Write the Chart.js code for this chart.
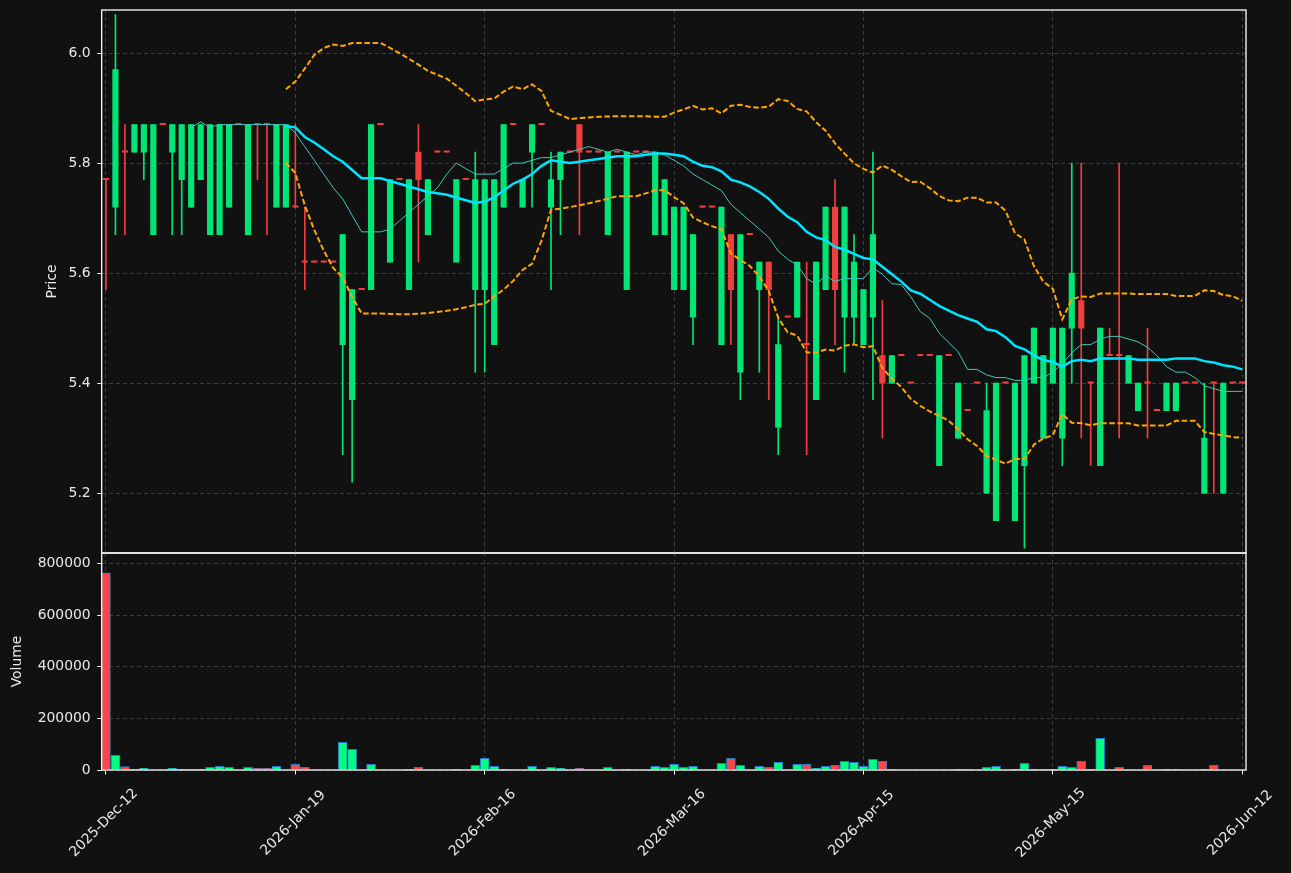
<!DOCTYPE html>
<html><head><meta charset="utf-8">
<script src="https://cdn.jsdelivr.net/npm/chart.js@4.4.1/dist/chart.umd.min.js"></script>
<style>
html,body{margin:0;padding:0;background:#111111;}
#wrap{position:relative;width:1291px;height:873px;background:#111111;overflow:hidden;}
#pc{position:absolute;left:0;top:0;}
#vc{position:absolute;left:0;top:550px;}
</style></head><body>
<div id="wrap"><canvas id="vc" width="1291" height="323"></canvas><canvas id="pc" width="1291" height="556"></canvas></div>
<script>
// ---- tick labels ----
const tickIndex = [0, 20, 40, 60, 80, 100, 120];
const tickLabels = ['2025-Dec-12','2026-Jan-19','2026-Feb-16','2026-Mar-16','2026-Apr-15','2026-May-15','2026-Jun-12'];
const priceTicks = [5.2, 5.4, 5.6, 5.8, 6.0];
const volumeTicks = [0, 200000, 400000, 600000, 800000];

// ---- OHLC ----
const opens = [5.77,5.72,5.82,5.82,5.82,5.67,5.87,5.82,5.77,5.72,5.77,5.67,5.67,5.72,5.87,5.67,5.87,5.87,5.72,5.72,
5.72,5.62,5.62,5.62,5.62,5.47,5.37,5.57,5.57,5.87,5.62,5.77,5.57,5.82,5.67,5.82,5.82,5.62,5.77,5.57,
5.57,5.47,5.72,5.87,5.72,5.82,5.87,5.72,5.77,5.82,5.87,5.82,5.82,5.67,5.82,5.57,5.82,5.82,5.67,5.67,
5.57,5.57,5.52,5.72,5.72,5.47,5.67,5.42,5.67,5.57,5.62,5.32,5.52,5.52,5.47,5.37,5.57,5.72,5.52,5.52,
5.47,5.52,5.45,5.40,5.45,5.40,5.45,5.45,5.25,5.45,5.30,5.35,5.40,5.20,5.15,5.40,5.15,5.25,5.40,5.30,
5.40,5.30,5.50,5.55,5.40,5.25,5.45,5.45,5.40,5.35,5.40,5.35,5.35,5.35,5.40,5.40,5.20,5.40,5.20,5.40,5.40];
const highs = [5.77,6.07,5.87,5.87,5.87,5.87,5.87,5.87,5.87,5.87,5.87,5.87,5.87,5.87,5.87,5.87,5.87,5.87,5.87,5.87,
5.87,5.72,5.62,5.62,5.62,5.67,5.57,5.57,5.87,5.87,5.77,5.77,5.77,5.87,5.77,5.82,5.82,5.77,5.77,5.82,
5.77,5.77,5.87,5.87,5.77,5.87,5.87,5.82,5.82,5.82,5.87,5.82,5.82,5.82,5.82,5.82,5.82,5.82,5.82,5.77,
5.72,5.72,5.67,5.72,5.72,5.72,5.67,5.67,5.67,5.62,5.62,5.52,5.52,5.62,5.62,5.62,5.72,5.77,5.72,5.67,
5.57,5.82,5.55,5.45,5.45,5.40,5.45,5.45,5.45,5.45,5.40,5.35,5.40,5.40,5.40,5.40,5.40,5.45,5.50,5.45,
5.50,5.50,5.80,5.80,5.40,5.50,5.50,5.80,5.45,5.40,5.50,5.35,5.40,5.40,5.40,5.40,5.40,5.40,5.40,5.40,5.40];
const lows = [5.57,5.67,5.67,5.82,5.77,5.67,5.87,5.67,5.67,5.72,5.77,5.67,5.67,5.72,5.87,5.67,5.77,5.67,5.72,5.72,
5.72,5.57,5.62,5.62,5.62,5.27,5.22,5.57,5.57,5.87,5.62,5.77,5.57,5.62,5.67,5.82,5.82,5.62,5.77,5.42,
5.42,5.47,5.72,5.87,5.72,5.72,5.87,5.57,5.67,5.82,5.67,5.82,5.82,5.67,5.82,5.57,5.82,5.82,5.67,5.67,
5.57,5.57,5.47,5.72,5.72,5.47,5.47,5.37,5.67,5.42,5.37,5.27,5.52,5.52,5.27,5.37,5.57,5.47,5.42,5.47,
5.47,5.37,5.30,5.40,5.45,5.40,5.45,5.45,5.25,5.45,5.30,5.35,5.40,5.20,5.15,5.40,5.15,5.10,5.40,5.30,
5.40,5.25,5.40,5.30,5.25,5.25,5.45,5.30,5.40,5.35,5.30,5.35,5.35,5.35,5.40,5.40,5.20,5.20,5.20,5.40,5.40];
const closes = [5.77,5.97,5.82,5.87,5.87,5.87,5.87,5.87,5.87,5.87,5.87,5.87,5.87,5.87,5.87,5.87,5.87,5.87,5.87,5.87,
5.72,5.62,5.62,5.62,5.62,5.67,5.57,5.57,5.87,5.87,5.77,5.77,5.77,5.77,5.77,5.82,5.82,5.77,5.77,5.77,
5.77,5.77,5.87,5.87,5.77,5.87,5.87,5.77,5.82,5.82,5.82,5.82,5.82,5.82,5.82,5.82,5.82,5.82,5.82,5.77,
5.72,5.72,5.67,5.72,5.72,5.72,5.57,5.67,5.67,5.62,5.57,5.47,5.52,5.62,5.47,5.62,5.72,5.57,5.72,5.62,
5.57,5.67,5.40,5.45,5.45,5.40,5.45,5.45,5.45,5.45,5.40,5.35,5.40,5.35,5.40,5.40,5.40,5.45,5.50,5.45,
5.50,5.50,5.60,5.50,5.40,5.50,5.45,5.45,5.45,5.40,5.40,5.35,5.40,5.40,5.40,5.40,5.30,5.40,5.40,5.40,5.40];
const volumes = [765000,57000,13000,2600,6500,0,0,6500,2600,2600,2600,10000,14000,10000,0,10000,6500,6500,14000,0,
22000,10000,0,0,0,107600,80400,0,22000,0,0,0,2600,10000,0,0,0,2600,0,18000,
45400,14000,2600,0,0,14000,0,10000,6500,0,6500,0,0,10000,0,2600,0,0,14000,10000,
22000,10000,14000,0,0,26000,45400,18000,0,14000,10000,30000,0,22000,22000,6500,14000,18000,33700,30000,
14000,41500,33700,2600,0,0,0,0,0,0,2600,2600,0,10000,14000,0,2600,26000,2600,2600,
2600,14000,10000,33700,2600,123000,0,10000,0,0,18000,0,2600,2600,0,0,2600,18000,0,0,0];

// ---- indicator lines ----
const ma10 = [null,null,null,null,null,null,null,null,null,5.865,5.875,5.865,5.87,5.87,5.87,5.87,5.87,5.87,5.87,5.87,
5.855,5.83,5.805,5.78,5.755,5.735,5.705,5.675,5.675,5.675,5.68,5.695,5.71,5.725,5.74,5.755,5.78,5.80,5.79,5.78,
5.78,5.78,5.79,5.80,5.80,5.805,5.81,5.81,5.815,5.82,5.825,5.83,5.825,5.82,5.825,5.82,5.815,5.82,5.82,5.815,
5.805,5.795,5.78,5.77,5.76,5.75,5.725,5.71,5.695,5.68,5.665,5.64,5.625,5.615,5.59,5.58,5.595,5.585,5.59,5.59,
5.59,5.61,5.598,5.581,5.579,5.557,5.53,5.518,5.491,5.474,5.457,5.425,5.425,5.415,5.41,5.41,5.405,5.405,5.41,5.41,
5.42,5.435,5.455,5.47,5.47,5.48,5.485,5.485,5.48,5.475,5.465,5.45,5.43,5.42,5.42,5.41,5.395,5.39,5.385,5.385,5.385];
const ma20 = [null,null,null,null,null,null,null,null,null,null,null,null,null,null,null,null,null,null,null,5.8675,
5.865,5.8475,5.8375,5.825,5.8125,5.8025,5.7875,5.7725,5.7725,5.7725,5.7675,5.7625,5.7575,5.7525,5.7475,5.745,5.7425,5.7375,5.7325,5.7275,
5.73,5.7375,5.75,5.7625,5.77,5.78,5.795,5.805,5.8025,5.80,5.8025,5.805,5.8075,5.81,5.8125,5.8125,5.8125,5.815,5.8175,5.8175,
5.815,5.8125,5.8025,5.795,5.7925,5.785,5.77,5.765,5.7575,5.7475,5.735,5.7175,5.7025,5.6925,5.675,5.665,5.66,5.6475,5.6425,5.635,
5.6275,5.625,5.6115,5.598,5.5845,5.5685,5.5625,5.5515,5.5405,5.532,5.5235,5.5175,5.5115,5.498,5.4945,5.4835,5.4675,5.4615,5.4505,5.442,
5.4385,5.43,5.44,5.4425,5.44,5.445,5.445,5.445,5.445,5.4425,5.4425,5.4425,5.4425,5.445,5.445,5.445,5.44,5.4375,5.4325,5.43,5.425];
const bbUpper = [null,null,null,null,null,null,null,null,null,null,null,null,null,null,null,null,null,null,null,5.9344,
5.9481,5.9719,5.9965,6.0091,6.0157,6.0129,6.0183,6.0184,6.0184,6.0184,6.0093,5.9997,5.9896,5.9789,5.9677,5.9606,5.9534,5.9407,5.9271,5.9126,
5.916,5.9172,5.93,5.9393,5.9343,5.9431,5.931,5.895,5.8878,5.88,5.8817,5.8831,5.8841,5.8848,5.8851,5.8851,5.8851,5.885,5.8844,5.8844,
5.8918,5.8978,5.9039,5.8975,5.8996,5.8904,5.9042,5.9061,5.902,5.9007,5.9026,5.9162,5.9129,5.8986,5.8939,5.8745,5.859,5.8358,5.8171,5.7996,
5.7896,5.7828,5.7956,5.7878,5.7761,5.7655,5.7662,5.7545,5.7404,5.7322,5.7308,5.7372,5.7371,5.7283,5.7285,5.7135,5.6726,5.6612,5.6128,5.5845,
5.5714,5.516,5.5522,5.5577,5.5566,5.5629,5.5629,5.5629,5.5629,5.562,5.562,5.562,5.562,5.5586,5.5586,5.5586,5.5688,5.5674,5.5601,5.5581,5.5495];
const bbLower = [null,null,null,null,null,null,null,null,null,null,null,null,null,null,null,null,null,null,null,5.8006,
5.7819,5.7231,5.6785,5.6409,5.6093,5.5921,5.5567,5.5266,5.5266,5.5266,5.5257,5.5253,5.5254,5.5261,5.5273,5.5294,5.5316,5.5343,5.5379,5.5424,
5.544,5.5578,5.57,5.5857,5.6057,5.6169,5.659,5.715,5.7172,5.72,5.7233,5.7269,5.7309,5.7352,5.7399,5.7399,5.7399,5.745,5.7506,5.7506,
5.7382,5.7272,5.7011,5.6925,5.6854,5.6796,5.6358,5.6239,5.613,5.5943,5.5674,5.5188,5.4921,5.4864,5.4561,5.4555,5.461,5.4592,5.4679,5.4704,
5.4654,5.4672,5.4274,5.4082,5.3929,5.3715,5.3588,5.3485,5.3406,5.3318,5.3162,5.2978,5.2859,5.2677,5.2605,5.2535,5.2624,5.2618,5.2882,5.2995,
5.3056,5.344,5.3278,5.3273,5.3234,5.3271,5.3271,5.3271,5.3271,5.323,5.323,5.323,5.323,5.3314,5.3314,5.3314,5.3112,5.3076,5.3049,5.3019,5.3005];

// ---- styling ----
const X_MIN = -0.45, X_MAX = 120.4;
const GRID = '#3d3d3d', TXT = '#eaeaea';
const FONT = {family: '"DejaVu Sans", sans-serif', size: 13.9};
const CANDLE_UP = '#00e676', CANDLE_DN = '#f03e3e', VOL_UP = '#00ff80', VOL_DN = '#ff4646';
const candleColors = closes.map((c, i) => c > opens[i] ? CANDLE_UP : CANDLE_DN);
const volColors = closes.map((c, i) => c > opens[i] ? VOL_UP : VOL_DN);
const pts = arr => arr.map((v, i) => ({x: i, y: v}));

Chart.defaults.font.family = FONT.family;

const framePlugin = {
  id: 'frame',
  afterDraw(chart) {
    const {ctx, chartArea: a} = chart;
    ctx.save();
    ctx.strokeStyle = '#ffffff';
    ctx.lineWidth = 1.3;
    ctx.strokeRect(a.left, a.top, a.right - a.left, a.bottom - a.top);
    ctx.restore();
  }
};
const xLabelPlugin = {
  id: 'xlabels',
  afterDraw(chart) {
    const {ctx} = chart, xs = chart.scales.x, b = chart.chartArea.bottom;
    ctx.save();
    ctx.fillStyle = TXT;
    ctx.font = FONT.size + 'px ' + FONT.family;
    ctx.textAlign = 'center';
    ctx.textBaseline = 'middle';
    tickIndex.forEach((v, k) => {
      const px = xs.getPixelForValue(v);
      ctx.save();
      ctx.translate(px - 2, b + 53);
      ctx.rotate(-Math.PI / 4);
      ctx.fillText(tickLabels[k], 0, 0);
      ctx.restore();
    });
    ctx.restore();
  }
};

const xScale = (h, ticksOn) => ({
  type: 'linear', min: X_MIN, max: X_MAX, offset: false,
  afterBuildTicks: s => { s.ticks = tickIndex.map(v => ({value: v})); },
  ticks: {display: false},
  grid: {color: GRID, lineWidth: 1, offset: false, drawTicks: ticksOn, tickLength: 4.5, tickColor: '#ffffff', tickWidth: 1},
  border: {display: false, dash: [4, 3]},
  afterFit: s => { s.height = h; s.paddingLeft = 0; s.paddingRight = 0; s.paddingTop = 0; s.paddingBottom = 0; }
});

new Chart(document.getElementById('pc'), {
  type: 'bar',
  data: {datasets: [
    {type: 'line', label: 'MA20', data: pts(ma20), borderColor: '#00e5ff', borderWidth: 2.5, pointRadius: 0, tension: 0, order: 0},
    {type: 'line', label: 'MA10', data: pts(ma10), borderColor: '#42c7bd', borderWidth: 1, pointRadius: 0, tension: 0, order: 0},
    {type: 'line', label: 'BB upper', data: pts(bbUpper), borderColor: '#ffa500', borderWidth: 2, borderDash: [5.6, 2.6], pointRadius: 0, tension: 0, order: 0},
    {type: 'line', label: 'BB lower', data: pts(bbLower), borderColor: '#ffa500', borderWidth: 2, borderDash: [5.6, 2.6], pointRadius: 0, tension: 0, order: 0},
    {type: 'bar', label: 'body', data: opens.map((o, i) => ({x: i, y: [o, closes[i]]})), backgroundColor: candleColors, barThickness: 5.5, minBarLength: 1.2, grouped: false, order: 1},
    {type: 'bar', label: 'wick', data: lows.map((l, i) => ({x: i, y: [l, highs[i]]})), backgroundColor: candleColors, barThickness: 1, grouped: false, order: 2}
  ]},
  options: {
    responsive: false, animation: false, devicePixelRatio: 1, events: [],
    layout: {padding: {left: 40, top: 10, right: 45, bottom: 3}},
    plugins: {legend: {display: false}, tooltip: {enabled: false}},
    scales: {
      x: xScale(0, false),
      y: {
        type: 'linear', position: 'left', min: 5.0912, max: 6.0783,
        afterBuildTicks: s => { s.ticks = priceTicks.map(v => ({value: v})); },
        ticks: {color: TXT, font: FONT, padding: 6.5, callback: v => Number(v).toFixed(1)},
        grid: {color: GRID, lineWidth: 1, drawTicks: true, tickLength: 4.5, tickColor: '#ffffff', tickWidth: 1},
        border: {display: false, dash: [4, 3]},
        title: {display: true, text: 'Price', color: TXT, font: FONT, padding: {top: 4, bottom: 4}},
        afterFit: s => { s.width = 61.7; s.paddingTop = 0; s.paddingBottom = 0; s.paddingLeft = 0; s.paddingRight = 0; }
      }
    }
  },
  plugins: [framePlugin]
});

new Chart(document.getElementById('vc'), {
  type: 'bar',
  data: {datasets: [
    {label: 'Volume', data: pts(volumes), backgroundColor: volColors, borderColor: '#2a78c0', borderWidth: 1, barThickness: 9, grouped: false}
  ]},
  options: {
    responsive: false, animation: false, devicePixelRatio: 1, events: [],
    layout: {padding: {left: 5, top: 3, right: 45, bottom: 0}},
    plugins: {legend: {display: false}, tooltip: {enabled: false}},
    scales: {
      x: xScale(103, true),
      y: {
        type: 'linear', position: 'left', min: 0, max: 841500,
        afterBuildTicks: s => { s.ticks = volumeTicks.map(v => ({value: v})); },
        ticks: {color: TXT, font: FONT, padding: 6.5, callback: v => String(v)},
        grid: {color: GRID, lineWidth: 1, drawTicks: true, tickLength: 4.5, tickColor: '#ffffff', tickWidth: 1},
        border: {display: false, dash: [4, 3]},
        title: {display: true, text: 'Volume', color: TXT, font: FONT, padding: {top: 4, bottom: 4}},
        afterFit: s => { s.width = 96.7; s.paddingTop = 0; s.paddingBottom = 0; s.paddingLeft = 0; s.paddingRight = 0; }
      }
    }
  },
  plugins: [framePlugin, xLabelPlugin]
});
</script>
</body></html>
